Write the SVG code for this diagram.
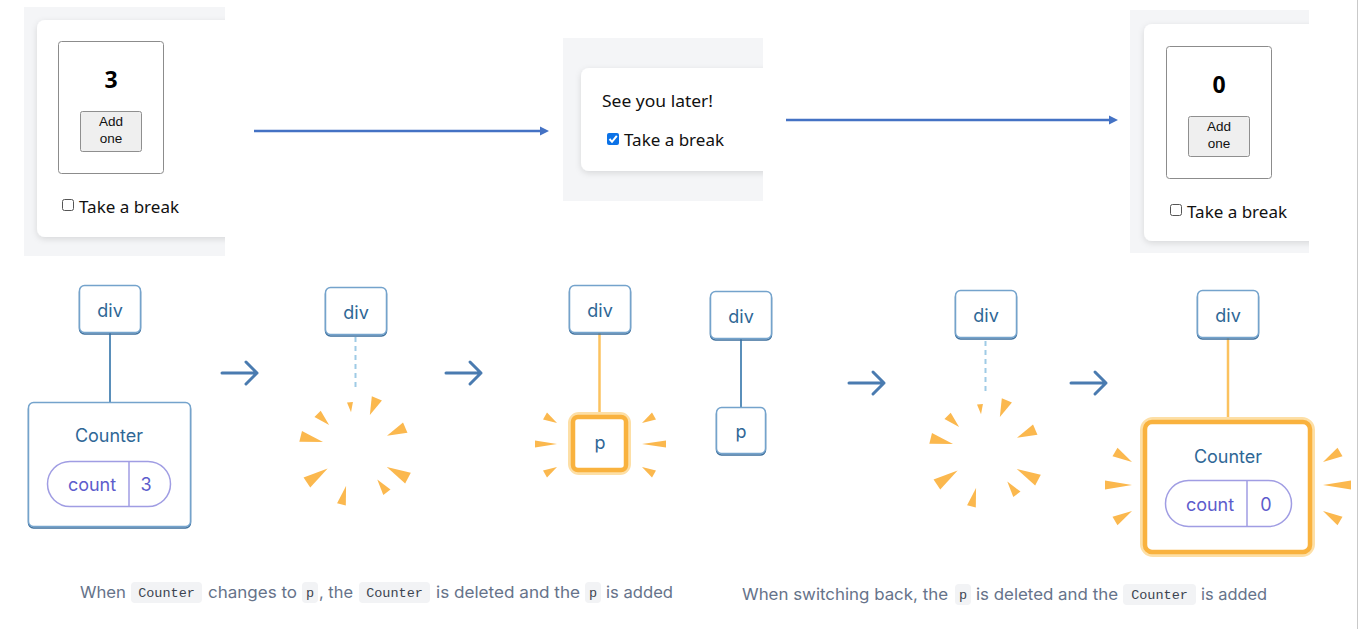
<svg xmlns="http://www.w3.org/2000/svg" xmlns:xlink="http://www.w3.org/1999/xlink" width="1359" height="629" viewBox="0 0 1359 629">
<style>
.panel{fill:#f4f5f7}
.card{fill:#fff;filter:url(#sh)}
.ibox{fill:#fff;stroke:#8c8c8c;stroke-width:1}
.btn{fill:#efefef;stroke:#8f8f8f;stroke-width:1}
.btxt{font-family:"Liberation Sans",Arial,sans-serif;font-size:13.5px;fill:#111;text-anchor:middle}
.num{font-family:"Noto Sans","Open Sans",sans-serif;font-size:23px;font-weight:bold;fill:#000;text-anchor:middle}
.st{font-family:"Noto Sans","Open Sans",sans-serif;font-size:16.5px;fill:#111}
.cb{fill:#fff;stroke:#555;stroke-width:1}
.top-arrow{stroke:#4472c4;stroke-width:2.5;fill:none}
.top-head{fill:#4472c4}
.nb{fill:#fff;stroke:#74a3cc;stroke-width:1.5}
.nbs{fill:none;stroke:#3b6e9c;stroke-width:1.5}
.nt{font-family:Inter,"Noto Sans",sans-serif;font-size:18px;fill:#2f6796;text-anchor:middle}
.pill{fill:#fff;stroke:#a09de3;stroke-width:1.5}
.pt{font-family:Inter,"Noto Sans",sans-serif;font-size:18px;fill:#5d5ccc;text-anchor:middle}
.edge{stroke:#5a8fba;stroke-width:2;fill:none}
.dash{stroke:#9fcbe6;stroke-width:2;stroke-dasharray:5 4;fill:none}
.oedge{stroke:#fbc25f;stroke-width:2.5;fill:none}
.glow{fill:none;stroke:#fddfa6;stroke-width:10}
.obox{fill:#fff;stroke:#f9b23e;stroke-width:4.5}
.ray{fill:#fbb84e}
.step{stroke:#4a7bb0;stroke-width:3;fill:none;stroke-linecap:round;stroke-linejoin:round}
.cap{font-family:Inter,"Noto Sans",sans-serif;font-size:16.5px;fill:#66738a}
.cbg{fill:#f2f3f5}
.code{font-family:"Liberation Mono","DejaVu Sans Mono",monospace;font-size:13.5px;fill:#3c4350;text-anchor:middle}
</style>
<defs>
<filter id="sh" x="-20%" y="-20%" width="140%" height="140%">
<feDropShadow dx="0" dy="2" stdDeviation="3" flood-color="#000" flood-opacity="0.12"/>
</filter>
<clipPath id="c1"><rect x="24" y="7" width="201" height="249"/></clipPath>
<clipPath id="c2"><rect x="563" y="38" width="200" height="163"/></clipPath>
<clipPath id="c3"><rect x="1130" y="10" width="179" height="243"/></clipPath>
<g id="burst">
<polygon class="ray" points="38,0 48,-3 48,3" transform="rotate(-96)"/>
<polygon class="ray" points="38,0 56,-5.5 56,5.5" transform="rotate(-67)"/>
<polygon class="ray" points="36,0 52,-4.5 52,4.5" transform="rotate(-136)"/>
<polygon class="ray" points="33,0 56,-5.5 56,5.5" transform="rotate(-166)"/>
<polygon class="ray" points="35,0 55,-5.5 55,5.5" transform="rotate(-24)"/>
<polygon class="ray" points="33,0 58,-6 58,6" transform="rotate(146)"/>
<polygon class="ray" points="36,0 60,-6 60,6" transform="rotate(28)"/>
<polygon class="ray" points="37,0 53,-4.5 53,4.5" transform="rotate(53)"/>
<polygon class="ray" points="37,0 56,-4.5 56,4.5" transform="rotate(104)"/>
</g>
<g id="arrow">
<path class="step" d="M0,0 H35 M24,-11 L35,0 L24,11"/>
</g>
</defs>
<rect width="1359" height="629" fill="#fff"/>

<!-- Screenshot 1 -->
<g id="screen1">
<rect class="panel" x="24" y="7" width="201" height="249"/>
<g clip-path="url(#c1)">
<rect class="card" x="37" y="20" width="230" height="217" rx="8"/>
</g>
<rect class="ibox" x="58.5" y="41.5" width="105" height="132" rx="3"/>
<text class="num" x="111" y="88">3</text>
<rect class="btn" x="80.5" y="111.5" width="61" height="40" rx="2"/>
<text class="btxt" x="111" y="126">Add</text>
<text class="btxt" x="111" y="143">one</text>
<rect class="cb" x="62.5" y="199.5" width="11" height="11" rx="2"/>
<text class="st" x="79" y="213" textLength="100" lengthAdjust="spacingAndGlyphs">Take a break</text>
</g>

<!-- Screenshot 2 -->
<g id="screen2">
<rect class="panel" x="563" y="38" width="200" height="163"/>
<g clip-path="url(#c2)">
<rect class="card" x="581" y="68" width="230" height="103" rx="8"/>
</g>
<text class="st" x="602" y="107" textLength="111" lengthAdjust="spacingAndGlyphs">See you later!</text>
<rect x="607" y="133" width="12" height="12" rx="2" fill="#0b72e7"/>
<path d="M609.5,139 L612,141.8 L616.8,135.8" stroke="#fff" stroke-width="2" fill="none"/>
<text class="st" x="624" y="146" textLength="100" lengthAdjust="spacingAndGlyphs">Take a break</text>
</g>

<!-- Screenshot 3 -->
<g id="screen3">
<rect class="panel" x="1130" y="10" width="179" height="243"/>
<g clip-path="url(#c3)">
<rect class="card" x="1144" y="24" width="230" height="217" rx="8"/>
</g>
<rect class="ibox" x="1166.5" y="46.5" width="105" height="132" rx="3"/>
<text class="num" x="1219" y="93">0</text>
<rect class="btn" x="1188.5" y="116.5" width="61" height="40" rx="2"/>
<text class="btxt" x="1219" y="131">Add</text>
<text class="btxt" x="1219" y="148">one</text>
<rect class="cb" x="1170.5" y="204.5" width="11" height="11" rx="2"/>
<text class="st" x="1187" y="218" textLength="100" lengthAdjust="spacingAndGlyphs">Take a break</text>
</g>

<!-- Connectors -->
<g id="connectors">
<line class="top-arrow" x1="254" y1="131" x2="541" y2="131"/>
<polygon class="top-head" points="540,126.5 549,131 540,135.5"/>
<line class="top-arrow" x1="786" y1="120" x2="1110" y2="120"/>
<polygon class="top-head" points="1109,115.5 1118,120 1109,124.5"/>
<line class="edge" x1="110" y1="333" x2="110" y2="402"/>
<line class="dash" x1="355.5" y1="337" x2="355.5" y2="390"/>
<line class="oedge" x1="599.5" y1="333" x2="599.5" y2="416"/>
<line class="edge" x1="741" y1="339" x2="741" y2="407"/>
<line class="dash" x1="985.5" y1="341" x2="985.5" y2="393"/>
<line class="oedge" x1="1228" y1="338" x2="1228" y2="421"/>
<use href="#arrow" x="222" y="373"/>
<use href="#arrow" x="446" y="373"/>
<use href="#arrow" x="849" y="383"/>
<use href="#arrow" x="1071" y="383"/>
</g>

<!-- Tree 1 -->
<g id="t1-div">
<rect class="nbs" x="79.5" y="287" width="61" height="47" rx="5"/>
<rect class="nb" x="79.5" y="285.5" width="61" height="47" rx="5"/>
<text class="nt" x="110" y="317">div</text>
</g>
<g id="t1-counter">
<rect class="nbs" x="28.5" y="404" width="162" height="124" rx="5"/>
<rect class="nb" x="28.5" y="402.5" width="162" height="124" rx="5"/>
<text class="nt" x="109" y="442">Counter</text>
<rect class="pill" x="47.5" y="461.5" width="123" height="45" rx="22.5"/>
<line x1="129" y1="461.5" x2="129" y2="506.5" stroke="#a09de3" stroke-width="1.5"/>
<text class="pt" x="92" y="491">count</text>
<text class="pt" x="146" y="491">3</text>
</g>

<!-- Tree 2 -->
<g id="t2-div">
<rect class="nbs" x="325.5" y="289" width="61" height="47" rx="5"/>
<rect class="nb" x="325.5" y="287.5" width="61" height="47" rx="5"/>
<text class="nt" x="356" y="319">div</text>
</g>
<g id="t2-burst"><use href="#burst" x="355" y="450"/></g>

<!-- Tree 3 -->
<g id="t3-div">
<rect class="nbs" x="569.5" y="287" width="61" height="47" rx="5"/>
<rect class="nb" x="569.5" y="285.5" width="61" height="47" rx="5"/>
<text class="nt" x="600" y="317">div</text>
</g>
<g id="t3-p">
<rect class="glow" x="573" y="417" width="53" height="53" rx="6"/>
<rect class="obox" x="573" y="417" width="53" height="53" rx="5"/>
<text class="nt" x="600" y="449">p</text>
<polygon class="ray" points="557,423 547,412.5 543,419.5"/>
<polygon class="ray" points="557,444 535,440.5 535,447.5"/>
<polygon class="ray" points="557,467 547,477.5 543,470.5"/>
<polygon class="ray" points="642,423 652,412.5 656,419.5"/>
<polygon class="ray" points="642,444 666,440.5 666,447.5"/>
<polygon class="ray" points="642,467 652,477.5 656,470.5"/>
</g>

<!-- Tree 4 -->
<g id="t4-div">
<rect class="nbs" x="710.5" y="293" width="61" height="47" rx="5"/>
<rect class="nb" x="710.5" y="291.5" width="61" height="47" rx="5"/>
<text class="nt" x="741" y="323">div</text>
</g>
<g id="t4-p">
<rect class="nbs" x="716.5" y="409" width="49" height="46" rx="5"/>
<rect class="nb" x="716.5" y="407.5" width="49" height="46" rx="5"/>
<text class="nt" x="741" y="438">p</text>
</g>

<!-- Tree 5 -->
<g id="t5-div">
<rect class="nbs" x="955.5" y="292" width="61" height="47" rx="5"/>
<rect class="nb" x="955.5" y="290.5" width="61" height="47" rx="5"/>
<text class="nt" x="986" y="322">div</text>
</g>
<g id="t5-burst"><use href="#burst" x="985" y="452"/></g>

<!-- Tree 6 -->
<g id="t6-div">
<rect class="nbs" x="1197.5" y="292" width="61" height="47" rx="5"/>
<rect class="nb" x="1197.5" y="290.5" width="61" height="47" rx="5"/>
<text class="nt" x="1228" y="322">div</text>
</g>
<g id="t6-counter">
<rect class="glow" x="1145" y="422" width="165" height="130" rx="8"/>
<rect class="obox" x="1145" y="422" width="165" height="130" rx="7"/>
<text class="nt" x="1228" y="463">Counter</text>
<rect class="pill" x="1165.5" y="480.5" width="126" height="46" rx="23"/>
<line x1="1247" y1="480.5" x2="1247" y2="526.5" stroke="#a09de3" stroke-width="1.5"/>
<text class="pt" x="1210" y="511">count</text>
<text class="pt" x="1266" y="511">0</text>
<polygon class="ray" points="1132,462 1117.5,447.8 1112.5,456.2"/>
<polygon class="ray" points="1132,485 1105,480.5 1105,489.5"/>
<polygon class="ray" points="1132,511 1117.5,525.2 1112.5,516.8"/>
<polygon class="ray" points="1323,462 1337.5,447.8 1342.5,456.2"/>
<polygon class="ray" points="1323,485 1351,480.5 1351,489.5"/>
<polygon class="ray" points="1323,511 1337.5,525.2 1342.5,516.8"/>
</g>

<!-- Captions -->
<g id="caption1">
<text class="cap" x="80" y="598" textLength="46" lengthAdjust="spacingAndGlyphs">When</text>
<rect class="cbg" x="131" y="582" width="71" height="21" rx="4"/>
<text class="code" x="166.5" y="597">Counter</text>
<text class="cap" x="208" y="598" textLength="89" lengthAdjust="spacingAndGlyphs">changes to</text>
<rect class="cbg" x="302" y="582" width="16" height="21" rx="4"/>
<text class="code" x="310" y="597">p</text>
<text class="cap" x="319" y="598" textLength="34" lengthAdjust="spacingAndGlyphs">, the</text>
<rect class="cbg" x="359" y="582" width="71" height="21" rx="4"/>
<text class="code" x="394.5" y="597">Counter</text>
<text class="cap" x="436" y="598" textLength="144" lengthAdjust="spacingAndGlyphs">is deleted and the</text>
<rect class="cbg" x="585" y="582" width="16" height="21" rx="4"/>
<text class="code" x="593" y="597">p</text>
<text class="cap" x="606" y="598" textLength="67" lengthAdjust="spacingAndGlyphs">is added</text>
</g>
<g id="caption2">
<text class="cap" x="742" y="600" textLength="206" lengthAdjust="spacingAndGlyphs">When switching back, the</text>
<rect class="cbg" x="955" y="584" width="16" height="21" rx="4"/>
<text class="code" x="963" y="599">p</text>
<text class="cap" x="976" y="600" textLength="142" lengthAdjust="spacingAndGlyphs">is deleted and the</text>
<rect class="cbg" x="1123" y="584" width="73" height="21" rx="4"/>
<text class="code" x="1159.5" y="599">Counter</text>
<text class="cap" x="1201" y="600" textLength="66" lengthAdjust="spacingAndGlyphs">is added</text>
</g>

<line x1="1357.5" y1="0" x2="1357.5" y2="629" stroke="#c9c9c9" stroke-width="1"/>
</svg>
